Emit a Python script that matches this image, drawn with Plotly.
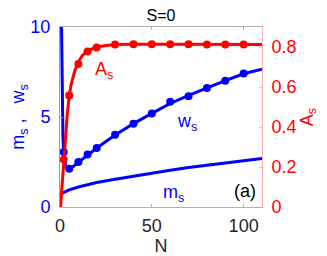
import plotly.graph_objects as go

# ---- data ----
N_marks = [2, 5, 10, 15, 20, 30, 40, 50, 60, 70, 80, 90, 100]
A_marks = [0.237, 0.558, 0.715, 0.778, 0.797, 0.812, 0.814, 0.814, 0.814, 0.814, 0.813, 0.813, 0.813]
w_marks = [3.06, 2.13, 2.50, 2.91, 3.28, 4.02, 4.63, 5.19, 5.85, 6.15, 6.61, 7.02, 7.41]

N_A_line = [0.3, 1, 2, 3, 4, 5, 6, 8, 10, 12, 15, 20, 25, 30, 40, 60, 80, 110]
A_line = [0.0, 0.09, 0.24, 0.37, 0.47, 0.55, 0.61, 0.68, 0.725, 0.755, 0.782, 0.800, 0.808, 0.812, 0.814, 0.814, 0.813, 0.812]

N_w_line = [0.6, 0.8, 1, 1.3, 1.6, 2, 2.5, 3, 4, 5, 6, 8, 10, 15, 20, 30, 40, 50, 60, 70, 80, 90, 100, 110]
w_line = [12.0, 9.5, 7.0, 5.0, 3.9, 3.08, 2.6, 2.35, 2.17, 2.13, 2.16, 2.32, 2.50, 2.91, 3.28, 4.00, 4.63, 5.20, 5.75, 6.20, 6.62, 7.02, 7.40, 7.65]

N_m_line = [0.8, 2, 5, 10, 20, 30, 40, 50, 60, 70, 80, 90, 100, 110]
m_line = [0.74, 0.80, 0.95, 1.11, 1.36, 1.54, 1.72, 1.88, 2.04, 2.19, 2.32, 2.44, 2.56, 2.69]

x_ticks = [0, 50, 100]
y_ticks = [0, 5, 10]
y2_ticks = [0, 0.2, 0.4, 0.6, 0.8]
y2_labels = ["0", "0.2", "0.4", "0.6", "0.8"]

BLUE = "#0000ff"
RED = "#ff0000"
FONT = "Liberation Sans, Arial, sans-serif"
FS = 18

fig = go.Figure()
fig.add_trace(go.Scatter(x=N_m_line, y=m_line, mode="lines", line=dict(color=BLUE, width=3), yaxis="y"))
fig.add_trace(go.Scatter(x=N_w_line, y=w_line, mode="lines", line=dict(color=BLUE, width=3), yaxis="y"))
fig.add_trace(go.Scatter(x=N_marks, y=w_marks, mode="markers", marker=dict(color=BLUE, size=8), yaxis="y"))
fig.add_trace(go.Scatter(x=N_A_line, y=A_line, mode="lines", line=dict(color=RED, width=3), yaxis="y2"))
fig.add_trace(go.Scatter(x=N_marks, y=A_marks, mode="markers", marker=dict(color=RED, size=8), yaxis="y2"))

# the page adds an 8px body margin, so the figure is drawn 8px smaller
fig.update_layout(
    template="none",
    width=319, height=248,
    margin=dict(l=52, r=65, t=19, b=49, pad=0, autoexpand=False),
    paper_bgcolor="white", plot_bgcolor="white",
    showlegend=False,
    font=dict(family=FONT, size=FS, color="#262626"),
    title=dict(text="S=0", x=0.5, xref="paper", xanchor="center",
               y=0.972, yref="container", yanchor="middle",
               automargin=False, font=dict(size=16, color="#000000")),
    xaxis=dict(range=[0, 110], tickvals=x_ticks, ticks="inside", ticklen=3,
               tickcolor="#b0b0b0", showgrid=False, zeroline=False, automargin=False,
               showline=True, linecolor="#b0b0b0", linewidth=1, mirror="ticks",
               ticklabelstandoff=2,
               title=dict(text="N", standoff=7, font=dict(size=FS, color="#262626"))),
    yaxis=dict(range=[0, 10], tickvals=y_ticks, ticks="inside", ticklen=3,
               tickcolor="#9090ff", showgrid=False, zeroline=False, automargin=False,
               showline=True, linecolor="#9090ff", linewidth=1,
               tickfont=dict(color=BLUE, size=FS), ticklabelstandoff=5,
               title=dict(text="m<sub>s</sub> ,   w<sub>s</sub>", standoff=10,
                          font=dict(color=BLUE, size=FS))),
    yaxis2=dict(range=[0, 0.9], tickvals=y2_ticks, ticktext=y2_labels, overlaying="y",
                side="right", ticks="inside", ticklen=3, tickcolor="#ffb0b0",
                showgrid=False, zeroline=False, showline=True, linecolor="#ffb0b0",
                linewidth=1, automargin=False,
                tickfont=dict(color=RED, size=FS), ticklabelstandoff=5,
                title=dict(text="A<sub>s</sub>", standoff=4, font=dict(color=RED, size=FS))),
    annotations=[
        dict(x=24, y=7.6, xref="x", yref="y", text="A<sub>s</sub>", showarrow=False,
             font=dict(color=RED, size=FS), xanchor="center", yanchor="middle"),
        dict(x=69, y=4.7, xref="x", yref="y", text="w<sub>s</sub>", showarrow=False,
             font=dict(color=BLUE, size=FS), xanchor="center", yanchor="middle"),
        dict(x=62, y=0.75, xref="x", yref="y", text="m<sub>s</sub>", showarrow=False,
             font=dict(color=BLUE, size=FS), xanchor="center", yanchor="middle"),
        dict(x=101, y=0.9, xref="x", yref="y", text="(a)", showarrow=False,
             font=dict(color="#000000", size=FS), xanchor="center", yanchor="middle"),
    ],
)

fig.write_html("out.html")
